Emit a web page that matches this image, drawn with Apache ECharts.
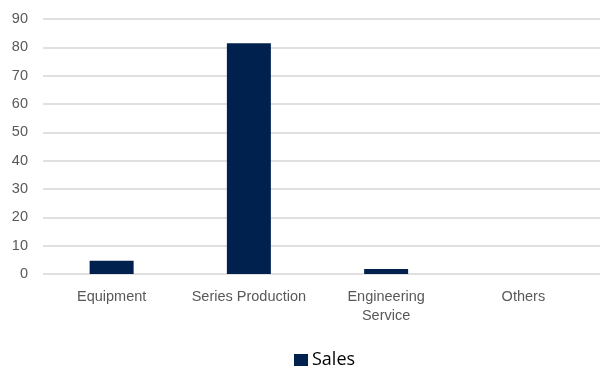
<!DOCTYPE html>
<html>
<head>
<meta charset="utf-8">
<script src="https://cdn.jsdelivr.net/npm/echarts@6/dist/echarts.min.js"></script>
<style>
  html, body { margin: 0; padding: 0; background: #fff; }
  #chart { width: 601px; height: 369px; }
</style>
</head>
<body>
<div id="chart"></div>
<script>
// Sales by business segment
const categories = ['Equipment', 'Series Production', 'Engineering\nService', 'Others'];
const salesValues = [4.7, 81.4, 1.8, 0];
const yTicks = { min: 0, max: 90, interval: 10 };

const labelFont = { color: '#595959', fontFamily: 'Liberation Sans', fontSize: 14.5 };

const chart = echarts.init(document.getElementById('chart'), null, { renderer: 'canvas' });
chart.setOption({
  animation: false,
  grid: [
    // bars and category labels
    { left: 43, right: 9, top: 19, bottom: 95 },
    // gridlines run the full width to the right edge
    { left: 43, right: 1, top: 19, bottom: 95 }
  ],
  legend: {
    top: 346,
    left: 289,
    itemWidth: 14,
    itemHeight: 12,
    itemGap: 4,
    icon: 'rect',
    textStyle: { fontFamily: 'Open Sans', fontSize: 18, color: '#000', padding: [0, 0, 0, -1] },
    data: ['Sales']
  },
  xAxis: [
    {
      type: 'category',
      gridIndex: 0,
      data: categories,
      axisTick: { show: false },
      axisLine: { show: false },
      axisLabel: Object.assign({ interval: 0, margin: 13, lineHeight: 19 }, labelFont)
    },
    {
      type: 'value',
      gridIndex: 1,
      show: false,
      min: 0,
      max: 1
    }
  ],
  yAxis: [
    {
      type: 'value',
      gridIndex: 0,
      min: yTicks.min,
      max: yTicks.max,
      interval: yTicks.interval,
      show: false
    },
    {
      type: 'value',
      gridIndex: 1,
      min: yTicks.min,
      max: yTicks.max,
      interval: yTicks.interval,
      axisLine: { show: false },
      axisTick: { show: false },
      splitLine: { lineStyle: { color: '#e0e0e0', width: 2 } },
      axisLabel: Object.assign({ margin: 15 }, labelFont)
    }
  ],
  series: [{
    name: 'Sales',
    type: 'bar',
    xAxisIndex: 0,
    yAxisIndex: 0,
    data: salesValues,
    barWidth: 44,
    itemStyle: { color: '#00204e' },
    z: 3
  }]
});
</script>
</body>
</html>
